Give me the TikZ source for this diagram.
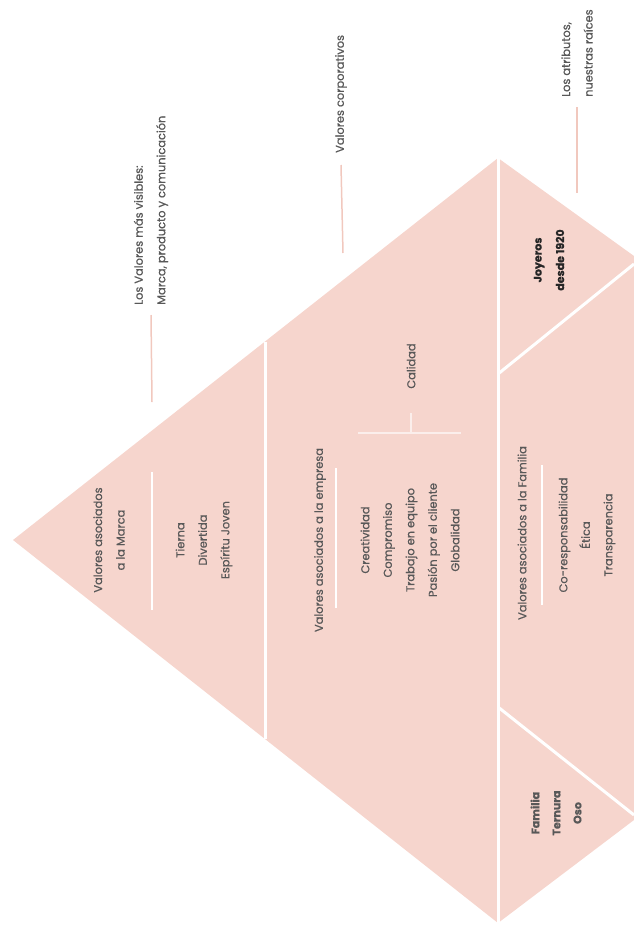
\documentclass[tikz,border=0pt]{standalone}
\usepackage{fontspec}
\setmainfont{Poppins}[FakeBold=0.7]
\usetikzlibrary{positioning}

\definecolor{rosa}{RGB}{246,213,205}
\definecolor{guiarosa}{RGB}{241,200,190}
\definecolor{gristexto}{RGB}{88,88,88}

\begin{document}
\begin{tikzpicture}[x=1pt, y=1pt, font=\fontsize{11.4}{22.5}\selectfont,
	etiqueta/.style={rotate=90, align=center, text=gristexto, inner sep=0pt},
	nota/.style={rotate=90, align=left, anchor=west, text=gristexto, inner sep=0pt},
	divisor/.style={white, line width=3pt},
	barra/.style={white, line width=2.5pt},
	guia/.style={guiarosa, line width=1.5pt}]
	\useasboundingbox (0,0) rectangle (634,-927);
	% piramide
	\fill[rosa] (13,-540) -- (498,-158) -- (634,-256) -- (634,-820) -- (498,-923) -- cycle;
	\draw[divisor] (265,-342) -- (265,-739);
	\draw[divisor] (498,-158) -- (498,-923);
	\draw[divisor] (498,-374) -- (634,-264);
	\draw[divisor] (498,-707) -- (634,-815);

	% valores de la marca
	\node[etiqueta] (marca) at (109,-540) {Valores asociados\\a la Marca};
	\draw[barra] (152,-472) -- (152,-610);
	\node[etiqueta] (valmarca) at (204,-540) {Tierna\\Divertida\\Espíritu Joven};

	% valores de la empresa
	\node[etiqueta] (empresa) at (320,-540) {Valores asociados a la empresa};
	\draw[barra] (336,-468) -- (336,-608);
	\node[etiqueta] (valempresa) at (410,-540) {Creatividad\\Compromiso\\Trabajo en equipo\\Pasión por el cliente\\Globalidad};
	\node[etiqueta] (calidad) at (411,-366) {Calidad};
	\coordinate (llave) at (411,-433);
	\draw[white!60!rosa, line width=1.5pt] (358,-433) -- (461,-433);
	\draw[white!60!rosa, line width=1.5pt] (llave) -- ([yshift=-24pt]calidad.west);

	% valores de la familia
	\node[etiqueta] (familia) at (522,-533) {Valores asociados a la Familia};
	\draw[barra] (542,-465) -- (542,-605);
	\node[etiqueta] (valfamilia) at (587,-535) {Co-responsabilidad\\Ética\\Transparencia};
	\node[etiqueta, text=black!85, font=\fontsize{11}{22.5}\bfseries] (joyeros) at (549,-260) {Joyeros\\desde 1920};
	\node[etiqueta, font=\fontsize{11}{21}\bfseries] (raices) at (556,-813) {Familia\\Ternura\\Oso};

	% notas de fuera
	\node[nota] (visibles) at (151,-305) {Los Valores más visibles:\\Marca, producto y comunicación};
	\coordinate (finvisibles) at (152,-402);
	\draw[guia] ([yshift=-10pt]visibles.west) -- (finvisibles);
	\node[nota] (corporativos) at (341,-153) {Valores corporativos};
	\coordinate (fincorporativos) at (343,-253);
	\draw[guia] ([yshift=-12pt]corporativos.west) -- (fincorporativos);
	\node[nota, fill=white] (atributos) at (577,-97) {Los atributos,\\nuestras raíces};
	\coordinate (finatributos) at (577,-193);
	\draw[guia] ([yshift=-10pt]atributos.west) -- (finatributos);
\end{tikzpicture}
\end{document}
